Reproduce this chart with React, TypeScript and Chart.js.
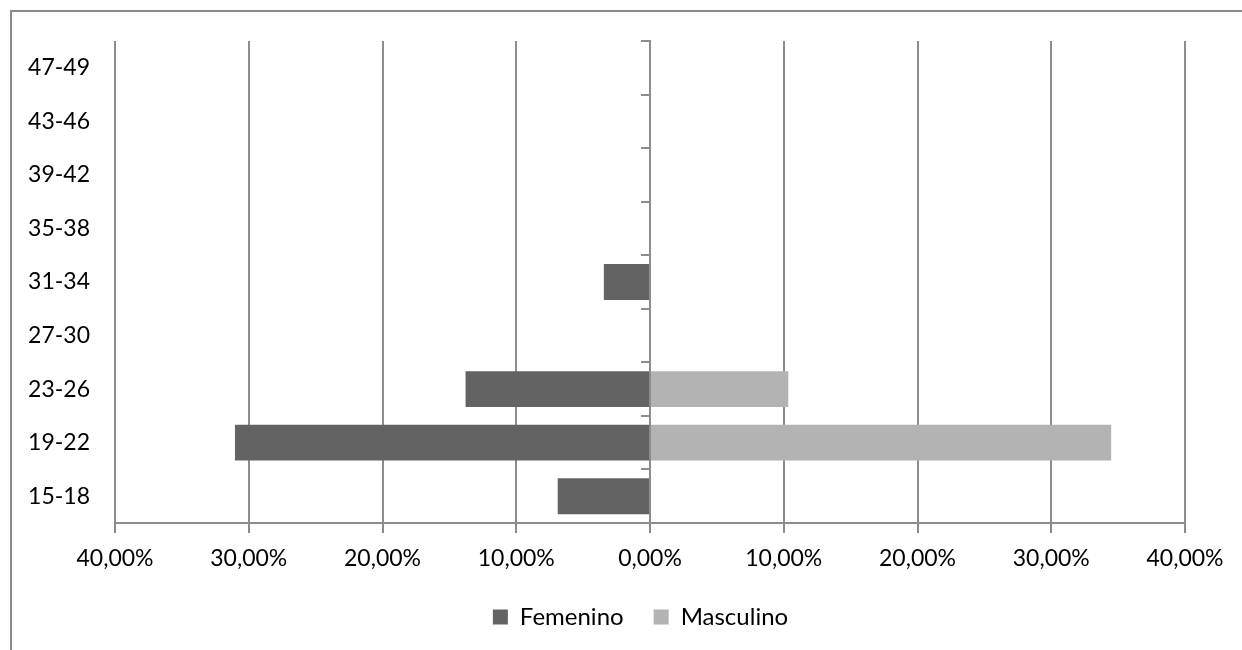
import React, { useEffect, useRef } from "react";
import Chart from "chart.js/auto";

// age groups, top to bottom as they appear in the chart
const ageGroups: string[] = ["47-49", "43-46", "39-42", "35-38", "31-34", "27-30", "23-26", "19-22", "15-18"];
// percentages (femenino drawn to the left)
const femenino: number[] = [0, 0, 0, 0, 3.45, 0, 13.79, 31.03, 6.9];
const masculino: number[] = [0, 0, 0, 0, 0, 0, 10.34, 34.48, 0];
const xTicks: number[] = [-40, -30, -20, -10, 0, 10, 20, 30, 40];

const FONT = "Lato, 'Open Sans', sans-serif";
const GRID = "#8c8c8c";

// the legend sits centred under the whole frame, not under the chart box
const legendShift = {
  id: "legendShift",
  afterLayout(chart: any) {
    const legend = chart.legend;
    if (legend) {
      legend.left += 48;
      legend.right += 48;
    }
  },
};

const App: React.FC = () => {
  const chartRef = useRef<HTMLCanvasElement>(null);

  useEffect(() => {
    const ctx = chartRef.current;
    if (!ctx) return;

    const chart = new Chart(ctx, {
      type: "bar",
      data: {
        labels: ageGroups,
        datasets: [
          {
            label: "Femenino",
            data: femenino.map((v) => -v),
            backgroundColor: "#636363",
            borderWidth: 0,
            barPercentage: 0.67,
            categoryPercentage: 1,
          },
          {
            label: "Masculino",
            data: masculino,
            backgroundColor: "#b3b3b3",
            borderWidth: 0,
            barPercentage: 0.67,
            categoryPercentage: 1,
          },
        ],
      },
      options: {
        indexAxis: "y",
        animation: false,
        responsive: true,
        maintainAspectRatio: false,
        layout: { padding: { top: 41, right: 57, left: 0, bottom: 31 } },
        scales: {
          x: {
            min: -40,
            max: 40,
            stacked: true,
            afterBuildTicks: (scale) => {
              scale.ticks = xTicks.map((value) => ({ value }));
            },
            afterFit: (scale) => {
              scale.height = 52;
            },
            grid: { color: GRID, lineWidth: 2, tickLength: 10 },
            border: { display: true, color: GRID, width: 2 },
            ticks: {
              color: "#000",
              padding: 12,
              maxRotation: 0,
              font: { family: FONT, size: 23 },
              callback: (v) => Math.abs(Number(v)).toFixed(2).replace(".", ",") + "%",
            },
          },
          y: {
            stacked: true,
            afterFit: (scale) => {
              scale.width = 115;
            },
            grid: { display: false, drawTicks: false },
            border: { display: false },
            ticks: { color: "#000", padding: 25, font: { family: FONT, size: 23 } },
          },
          yCenter: {
            type: "category",
            axis: "y",
            position: { x: 0 },
            offset: true,
            grid: { offset: true, drawOnChartArea: false, drawTicks: true, tickLength: 8, color: GRID, lineWidth: 2 },
            border: { display: true, color: GRID, width: 2 },
            ticks: { display: false },
          },
        },
        plugins: {
          legend: {
            position: "bottom",
            labels: {
              color: "#000",
              boxWidth: 15,
              boxHeight: 15,
              padding: 30,
              font: { family: FONT, size: 24 },
            },
          },
          tooltip: { enabled: false },
        },
      },
      plugins: [legendShift],
    });

    return () => {
      chart.destroy();
    };
  }, []);

  return (
    <div
      style={{
        position: "fixed",
        left: 0,
        top: 0,
        width: 1242,
        height: 650,
        overflow: "hidden",
        background: "#fff",
      }}
    >
      <div
        style={{
          position: "absolute",
          left: 10,
          top: 10,
          width: 1400,
          height: 800,
          border: "2px solid #8a8a8a",
        }}
      />
      <div style={{ position: "absolute", left: 0, top: 0, width: 1242, height: 670 }}>
        <canvas ref={chartRef}></canvas>
      </div>
    </div>
  );
};

export default App;
